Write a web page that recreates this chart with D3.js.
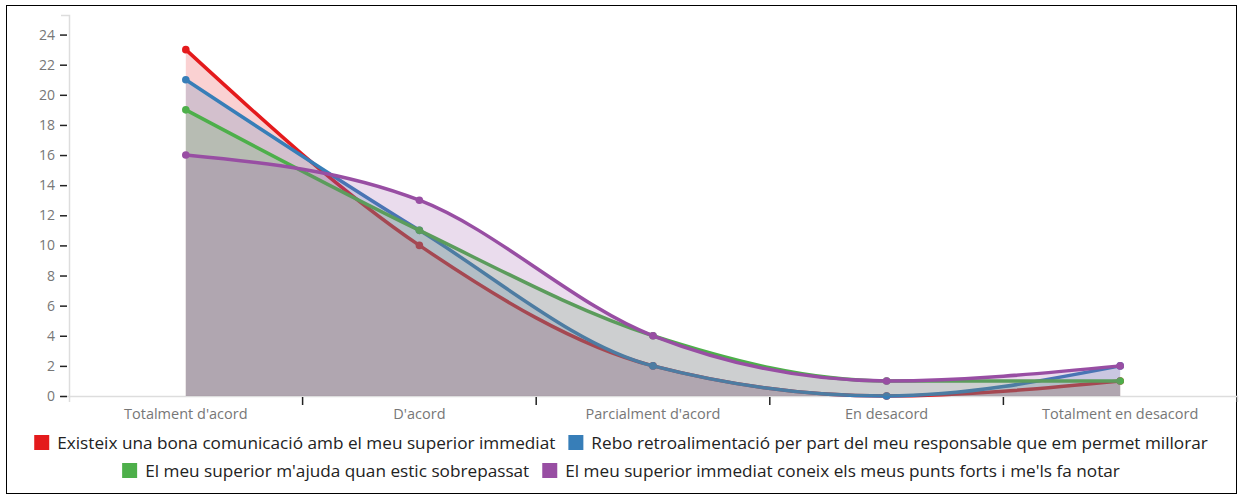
<!DOCTYPE html>
<html><head><meta charset="utf-8">
<script src="https://cdn.jsdelivr.net/npm/d3@7"></script>
<style>
html,body{margin:0;padding:0;background:#fff;}
svg{display:block;}
</style></head>
<body>
<svg id="c" width="1242" height="495"></svg>
<script>
const categories = ["Totalment d'acord", "D'acord", "Parcialment d'acord", "En desacord", "Totalment en desacord"];
const seriesNames = [
  "Existeix una bona comunicació amb el meu superior immediat",
  "Rebo retroalimentació per part del meu responsable que em permet millorar",
  "El meu superior m'ajuda quan estic sobrepassat",
  "El meu superior immediat coneix els meus punts forts i me'ls fa notar"
];
const valuesRed = [23, 10, 2, 0, 1];
const valuesBlue = [21, 11, 2, 0, 2];
const valuesGreen = [19, 11, 4, 1, 1];
const valuesPurple = [16, 13, 4, 1, 2];
const colors = ["#e41a1c", "#377eb8", "#4daf4a", "#984ea3"];
const yTicks = [0, 2, 4, 6, 8, 10, 12, 14, 16, 18, 20, 22, 24];

const allValues = [valuesRed, valuesBlue, valuesGreen, valuesPurple];
const svg = d3.select("#c");
const W = 1242, H = 495;
const mLeft = 69, mRight = 1237, mTop = 15, mBottom = 396;

svg.append("rect").attr("x", 6.5).attr("y", 5.5).attr("width", 1230).attr("height", 488)
  .attr("fill", "#fff").attr("stroke", "#000").attr("stroke-width", 1);

const x = d3.scaleBand().domain(categories).range([mLeft, mRight]).padding(0);
const y = d3.scaleLinear().domain([0, 25.3]).range([mBottom, mTop]);
const cx = c => x(c) + x.bandwidth() / 2;

// Y axis
const yAxis = svg.append("g").attr("transform", `translate(${mLeft},0)`)
  .call(d3.axisLeft(y).tickValues(yTicks).tickSize(9).tickPadding(5).tickSizeOuter(8));
yAxis.select(".domain").attr("stroke", "#ddd").attr("stroke-width", 1.5);
yAxis.selectAll(".tick line").attr("stroke", "#222").attr("stroke-width", 1.5).attr("x1", -2);
yAxis.selectAll(".tick text").attr("fill", "#777").attr("font-family", "Open Sans, sans-serif").attr("font-size", 14);

// X axis
const xAxis = svg.append("g").attr("transform", `translate(0,${mBottom})`)
  .call(d3.axisBottom(x).tickSize(0).tickPadding(13).tickSizeOuter(6));
xAxis.select(".domain").attr("stroke", "#ddd").attr("stroke-width", 1.5);
xAxis.selectAll(".tick text").attr("fill", "#777").attr("font-family", "Open Sans, sans-serif").attr("font-size", 14.5);
xAxis.selectAll(".sep").data(categories.slice(0, -1)).enter().append("line")
  .attr("class", "sep")
  .attr("x1", d => x(d) + x.bandwidth()).attr("x2", d => x(d) + x.bandwidth())
  .attr("y1", 1).attr("y2", 9).attr("stroke", "#222").attr("stroke-width", 1.5);

// Series
const area = d3.area().x((d, i) => cx(categories[i])).y0(y(0)).y1(d => y(d)).curve(d3.curveMonotoneX);
const line = d3.line().x((d, i) => cx(categories[i])).y(d => y(d)).curve(d3.curveMonotoneX);
allValues.forEach((vals, si) => {
  const g = svg.append("g");
  g.append("path").datum(vals).attr("d", area).attr("fill", colors[si]).attr("fill-opacity", 0.2);
  g.append("path").datum(vals).attr("d", line).attr("fill", "none").attr("stroke", colors[si]).attr("stroke-width", 3.5);
  g.selectAll("circle").data(vals).enter().append("circle")
    .attr("cx", (d, i) => cx(categories[i])).attr("cy", d => y(d)).attr("r", 3.8).attr("fill", colors[si]);
});

// Legend
const legend = svg.append("g");
const fs = 17.2, sw = 15, gapSwatch = 8, gapItem = 13;
const items = seriesNames.map((n, i) => {
  const g = legend.append("g");
  g.append("rect").attr("width", sw).attr("height", sw).attr("fill", colors[i]);
  const t = g.append("text").text(n).attr("x", sw + gapSwatch).attr("y", sw / 2).attr("dy", "0.35em")
    .attr("font-family", "Open Sans, sans-serif").attr("font-size", fs).attr("fill", "#222");
  const w = sw + gapSwatch + t.node().getComputedTextLength();
  return {g, w};
});
const rows = [[items[0], items[1]], [items[2], items[3]]];
const rowY = [435, 463];
rows.forEach((row, ri) => {
  const total = d3.sum(row, d => d.w) + gapItem * (row.length - 1);
  let xx = (W - total) / 2;
  row.forEach(it => { it.g.attr("transform", `translate(${xx},${rowY[ri]})`); xx += it.w + gapItem; });
});
</script>
</body></html>
